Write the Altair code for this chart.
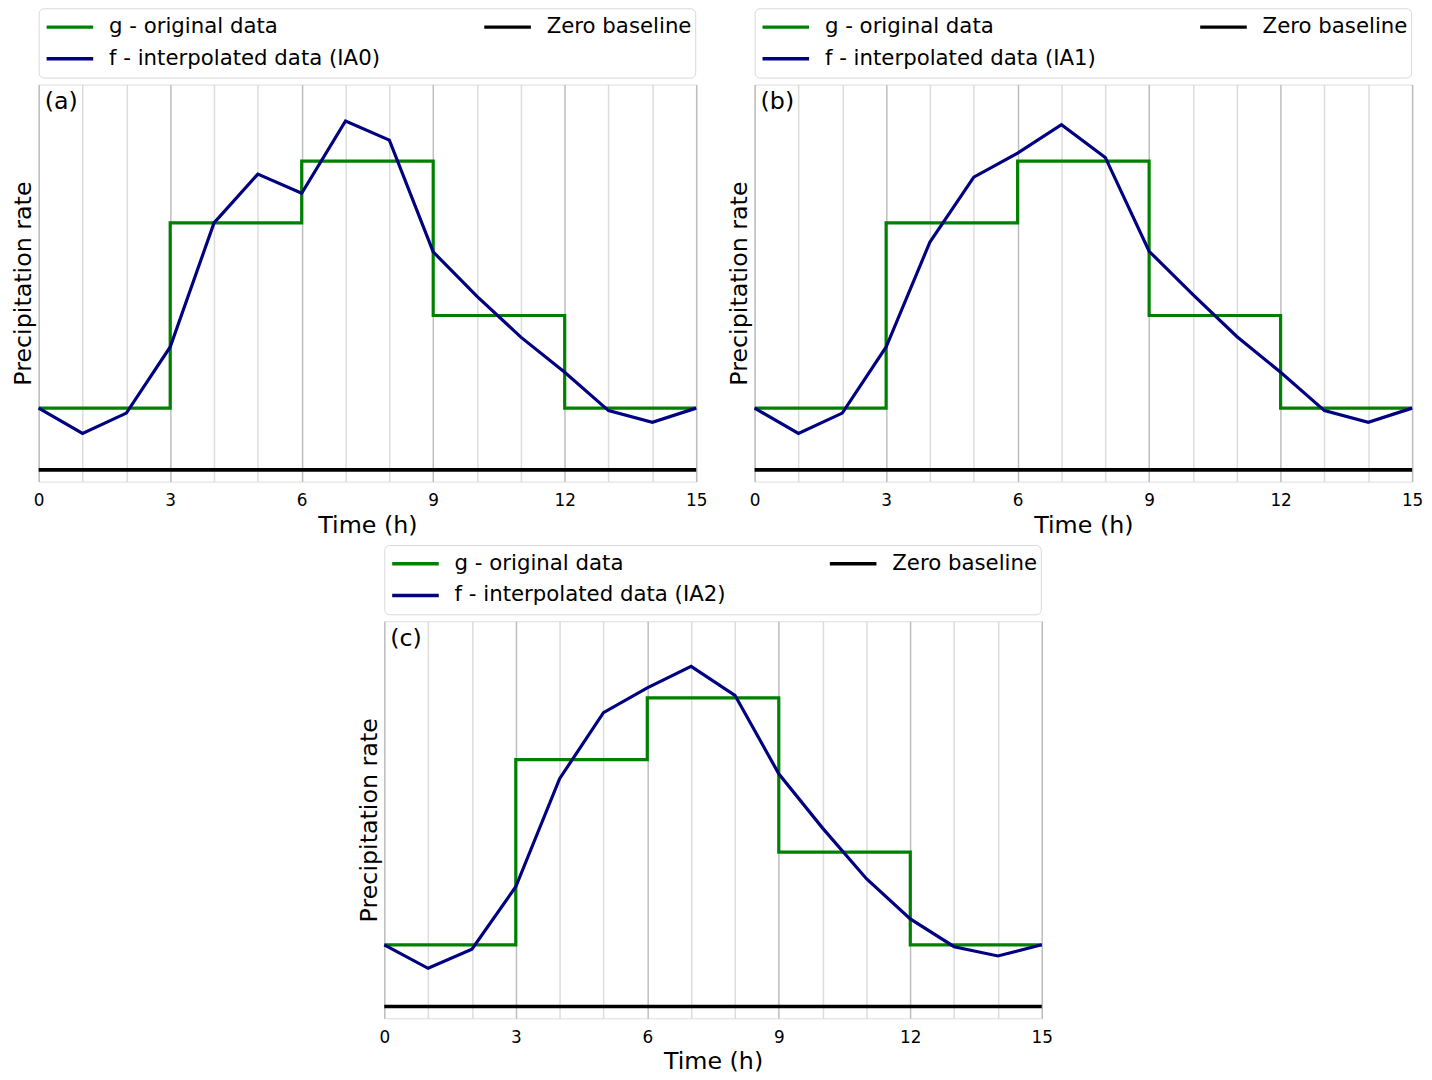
import altair as alt
import pandas as pd

# ---------------- data ----------------
hours = list(range(16))
g_edges = [0, 3, 6, 9, 12, 15]
g_values = [1.0, 4.0, 5.0, 2.5, 1.0]

f_ia0 = [1.0, 0.59, 0.92, 1.99, 4.0, 4.79, 4.48, 5.65, 5.34, 3.53,
         2.81, 2.15, 1.58, 0.96, 0.77, 1.0]
f_ia1 = [1.0, 0.59, 0.92, 1.99, 3.69, 4.74, 5.13, 5.59, 5.06, 3.54,
         2.84, 2.16, 1.58, 0.96, 0.77, 1.0]
f_ia2 = [1.0, 0.62, 0.93, 1.94, 3.69, 4.76, 5.16, 5.51, 5.04, 3.77,
         2.89, 2.07, 1.42, 0.97, 0.82, 1.0]

panel_tags = ["(a)", "(b)", "(c)"]
method_names = ["IA0", "IA1", "IA2"]

G_LABEL = "g - original data"
Z_LABEL = "Zero baseline"
FONT = "DejaVu Sans"
W, H = 664, 401


def panel(f_vals, tag, method):
    f_label = f"f - interpolated data ({method})"
    g_df = pd.DataFrame({"t": g_edges, "v": g_values + [g_values[-1]],
                         "series": [G_LABEL] * len(g_edges)})
    f_df = pd.DataFrame({"t": hours, "v": f_vals,
                         "series": [f_label] * len(hours)})
    z_df = pd.DataFrame({"v": [0.0], "series": [Z_LABEL]})
    tag_df = pd.DataFrame({"tag": [tag]})

    legend = alt.Legend(
        orient="none", legendX=0, legendY=-77, columns=2, title=None,
        symbolType="M-1.47,0H1.47", symbolSize=1024, symbolStrokeWidth=3.5,
        symbolOffset=10.5, clipHeight=32,
        labelFontSize=21.5, labelFont=FONT, labelColor="black",
        labelOffset=21.5, labelLimit=500, padding=3, columnPadding=100,
        rowPadding=0, strokeColor="#d9d9d9", cornerRadius=5,
        fillColor="white",
    )
    color = alt.Color(
        "series:N",
        scale=alt.Scale(domain=[G_LABEL, f_label, Z_LABEL],
                        range=["#008000", "#000080", "#000000"]),
        legend=legend,
    )
    x = alt.X(
        "t:Q",
        scale=alt.Scale(domain=[0, 15], nice=False, zero=False),
        axis=alt.Axis(
            values=hours,
            labelExpr="datum.value % 3 === 0 ? datum.label : ''",
            grid=True,
            gridColor={"condition": {"test": "datum.value % 3 === 0",
                                     "value": "#bdbdbd"},
                       "value": "#dcdcdc"},
            gridWidth=1.5, ticks=False, domain=False, labelFlush=False,
            labelFontSize=17, labelPadding=11, labelFont=FONT,
            labelColor="black", title="Time (h)", titleFontSize=24,
            titleFont=FONT, titleFontWeight="normal", titleColor="black",
            titlePadding=5,
        ),
    )
    y = alt.Y(
        "v:Q",
        scale=alt.Scale(domain=[-0.19, 6.24], nice=False, zero=False),
        axis=alt.Axis(
            labels=False, ticks=False, domain=False, grid=False,
            title="Precipitation rate", titleFontSize=24, titleFont=FONT,
            titleFontWeight="normal", titleColor="black", titlePadding=3,
        ),
    )

    g_line = alt.Chart(g_df).mark_line(
        interpolate="step-after", strokeWidth=3.2).encode(x=x, y=y, color=color)
    f_line = alt.Chart(f_df).mark_line(strokeWidth=3.2).encode(
        x="t:Q", y="v:Q", color="series:N")
    zero = alt.Chart(z_df).mark_rule(strokeWidth=3.6).encode(
        y="v:Q", color="series:N")
    label = alt.Chart(tag_df).mark_text(
        align="left", baseline="top", fontSize=24, font=FONT, color="black"
    ).encode(x=alt.value(6), y=alt.value(6), text="tag:N")

    return alt.layer(g_line, zero, f_line, label).properties(width=W, height=H)


pa = panel(f_ia0, panel_tags[0], method_names[0])
pb = panel(f_ia1, panel_tags[1], method_names[1])
pc = panel(f_ia2, panel_tags[2], method_names[2])

# empty, invisible view that only offsets panel (c) towards the middle
gap = alt.Chart(pd.DataFrame({"t": [0]})).mark_point(opacity=0).properties(
    width=321, height=10,
    view=alt.ViewBackground(stroke="transparent", strokeWidth=0),
)

top = alt.hconcat(pa, pb, spacing=19).resolve_scale(color="independent")
bottom = alt.hconcat(gap, pc, spacing=0).resolve_scale(color="independent")
chart = alt.vconcat(top, bottom, spacing=6).resolve_scale(
    color="independent"
).properties(
    padding={"left": 3, "top": -6, "right": 0, "bottom": 0}
).configure_view(stroke="black", strokeWidth=1.2).configure(font=FONT)

chart.save("out.html", embed_options={"renderer": "svg", "actions": False})
